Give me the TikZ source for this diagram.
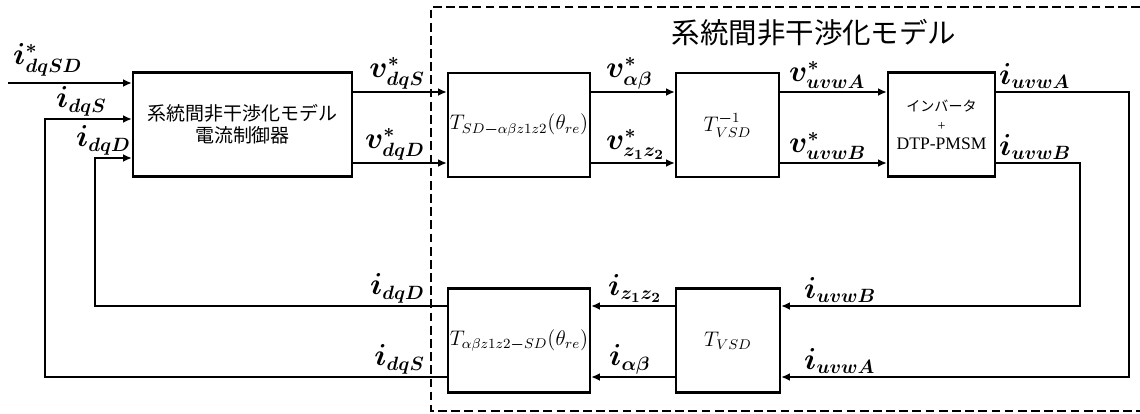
\documentclass[tikz,border=0pt]{standalone}
\usepackage[no-math]{fontspec}
\setmainfont{Liberation Serif}
\newfontfamily\jpfont{Noto Sans CJK JP}
\usepackage{amsmath}
\usepackage{bm}
\usetikzlibrary{arrows.meta}

\begin{document}
\begin{tikzpicture}[
    x=0.02cm, y=-0.02cm,
    blk/.style={
        draw, line width=1.3pt,
        minimum height=2.08cm, minimum width=#1,
        inner sep=1pt, align=center,
    },
    sig/.style={-{Latex[length=5pt,width=4.5pt]}, line width=1.4pt},
    fb/.style={line width=1pt},
    fbarr/.style={-{Latex[length=5pt,width=4.5pt]}, line width=1pt},
    lbl/.style={inner sep=0.5pt, font=\fontsize{16}{18}\selectfont},
    tlbl/.style={font=\fontsize{11.5}{13}\selectfont},
]
\useasboundingbox (0,0) rectangle (1140,413);

% ════════════════════════════════════════
% Decoupled model frame + title
% ════════════════════════════════════════
\draw[line width=1.2pt, dash pattern=on 5pt off 2.5pt]
    (1140,7) -- (431,7) -- (431,411) -- (1140,411);
\node[font=\jpfont\fontsize{16.2}{18}\selectfont] (title) at (814,33) {系統間非干渉化モデル};

% ════════════════════════════════════════
% Blocks
% ════════════════════════════════════════
\node[blk=4.38cm, font=\jpfont\fontsize{10.8}{12.5}\selectfont] (ctrl) at (242.5,124.5)
    {系統間非干渉化モデル\\電流制御器};
\node[blk=2.84cm, tlbl] (tsd) at (519,125) {$T_{SD\boldsymbol{-}\alpha\beta z1z2}(\theta_{re})$};
\node[blk=2.06cm, tlbl] (tinv) at (727.5,125) {$T_{VSD}^{\boldsymbol{-}1}$};
\node[blk=2.14cm, font=\fontsize{10}{10.8}\selectfont] (inv) at (941.5,124.5)
    {{\jpfont\fontsize{8}{10.8}\selectfont インバータ}\\{\fontsize{8}{10.8}\selectfont +}\\DTP-PMSM};
\node[blk=2.84cm, tlbl] (tab) at (519,340.5) {$T_{\alpha\beta z1z2\boldsymbol{-}SD}(\theta_{re})$};
\node[blk=2.08cm, tlbl] (tvsd) at (728,340.5) {$T_{VSD}$};

% ════════════════════════════════════════
% Rows and turning points
% ════════════════════════════════════════
\coordinate (rowA) at (0,92);
\coordinate (rowB) at (0,163);
\coordinate (inSD) at (8,83);
\coordinate (retA) at (1129,377);
\coordinate (retB) at (1080,306);
\coordinate (backS) at (45,119);
\coordinate (backD) at (95,158);

% ════════════════════════════════════════
% Forward path
% ════════════════════════════════════════
\draw[sig] (inSD) -- (ctrl.west |- inSD);
\draw[sig] (ctrl.east |- rowA) -- (tsd.west |- rowA);
\draw[sig] (ctrl.east |- rowB) -- (tsd.west |- rowB);
\draw[sig] (tsd.east |- rowA) -- (tinv.west |- rowA);
\draw[sig] (tsd.east |- rowB) -- (tinv.west |- rowB);
\draw[sig] (tinv.east |- rowA) -- (inv.west |- rowA);
\draw[sig] (tinv.east |- rowB) -- (inv.west |- rowB);

% ════════════════════════════════════════
% Feedback path
% ════════════════════════════════════════
\draw[fbarr] (inv.east |- rowA) -| (retA) -- (tvsd.east |- retA);
\draw[fbarr] (inv.east |- rowB) -| (retB) -- (tvsd.east |- retB);
\draw[fbarr] (tvsd.west |- retB) -- (tab.east |- retB);
\draw[fbarr] (tvsd.west |- retA) -- (tab.east |- retA);
\draw[fbarr] (tab.west |- retB) -| (backD) -- (ctrl.west |- backD);
\draw[fbarr] (tab.west |- retA) -| (backS) -- (ctrl.west |- backS);

% ════════════════════════════════════════
% Signal labels
% ════════════════════════════════════════
\node[lbl, anchor=south west] (lisd) at (12,77) {$\boldsymbol{i^{*}_{dqSD}}$};
\node[lbl, anchor=south west] (lis) at (55,117) {$\boldsymbol{i_{dqS}}$};
\node[lbl, anchor=south east] (lid) at (132,156) {$\boldsymbol{i_{dqD}}$};
\node[lbl, anchor=south east] (lvs) at (426,90) {$\boldsymbol{v^{*}_{dqS}}$};
\node[lbl, anchor=south east] (lvd) at (426,161) {$\boldsymbol{v^{*}_{dqD}}$};
\node[lbl, anchor=south west] (lvab) at (605,90) {$\boldsymbol{v^{*}_{\alpha\beta}}$};
\node[lbl, anchor=south west] (lvz) at (605,161) {$\boldsymbol{v^{*}_{z_1z_2}}$};
\node[lbl, anchor=south west] (lvA) at (788,90) {$\boldsymbol{v^{*}_{uvwA}}$};
\node[lbl, anchor=south west] (lvB) at (788,161) {$\boldsymbol{v^{*}_{uvwB}}$};
\node[lbl, anchor=south west] (liA) at (998,90) {$\boldsymbol{i_{uvwA}}$};
\node[lbl, anchor=south west] (liB) at (998,161) {$\boldsymbol{i_{uvwB}}$};
\node[lbl, anchor=south west] (lfB) at (803,304) {$\boldsymbol{i_{uvwB}}$};
\node[lbl, anchor=south west] (lfA) at (803,375) {$\boldsymbol{i_{uvwA}}$};
\node[lbl, anchor=south west] (liz) at (607,304) {$\boldsymbol{i_{z_1z_2}}$};
\node[lbl, anchor=south west] (liab) at (608,375) {$\boldsymbol{i_{\alpha\beta}}$};
\node[lbl, anchor=south east] (lfD) at (426,304) {$\boldsymbol{i_{dqD}}$};
\node[lbl, anchor=south east] (lfS) at (426,375) {$\boldsymbol{i_{dqS}}$};

\end{tikzpicture}
\end{document}
